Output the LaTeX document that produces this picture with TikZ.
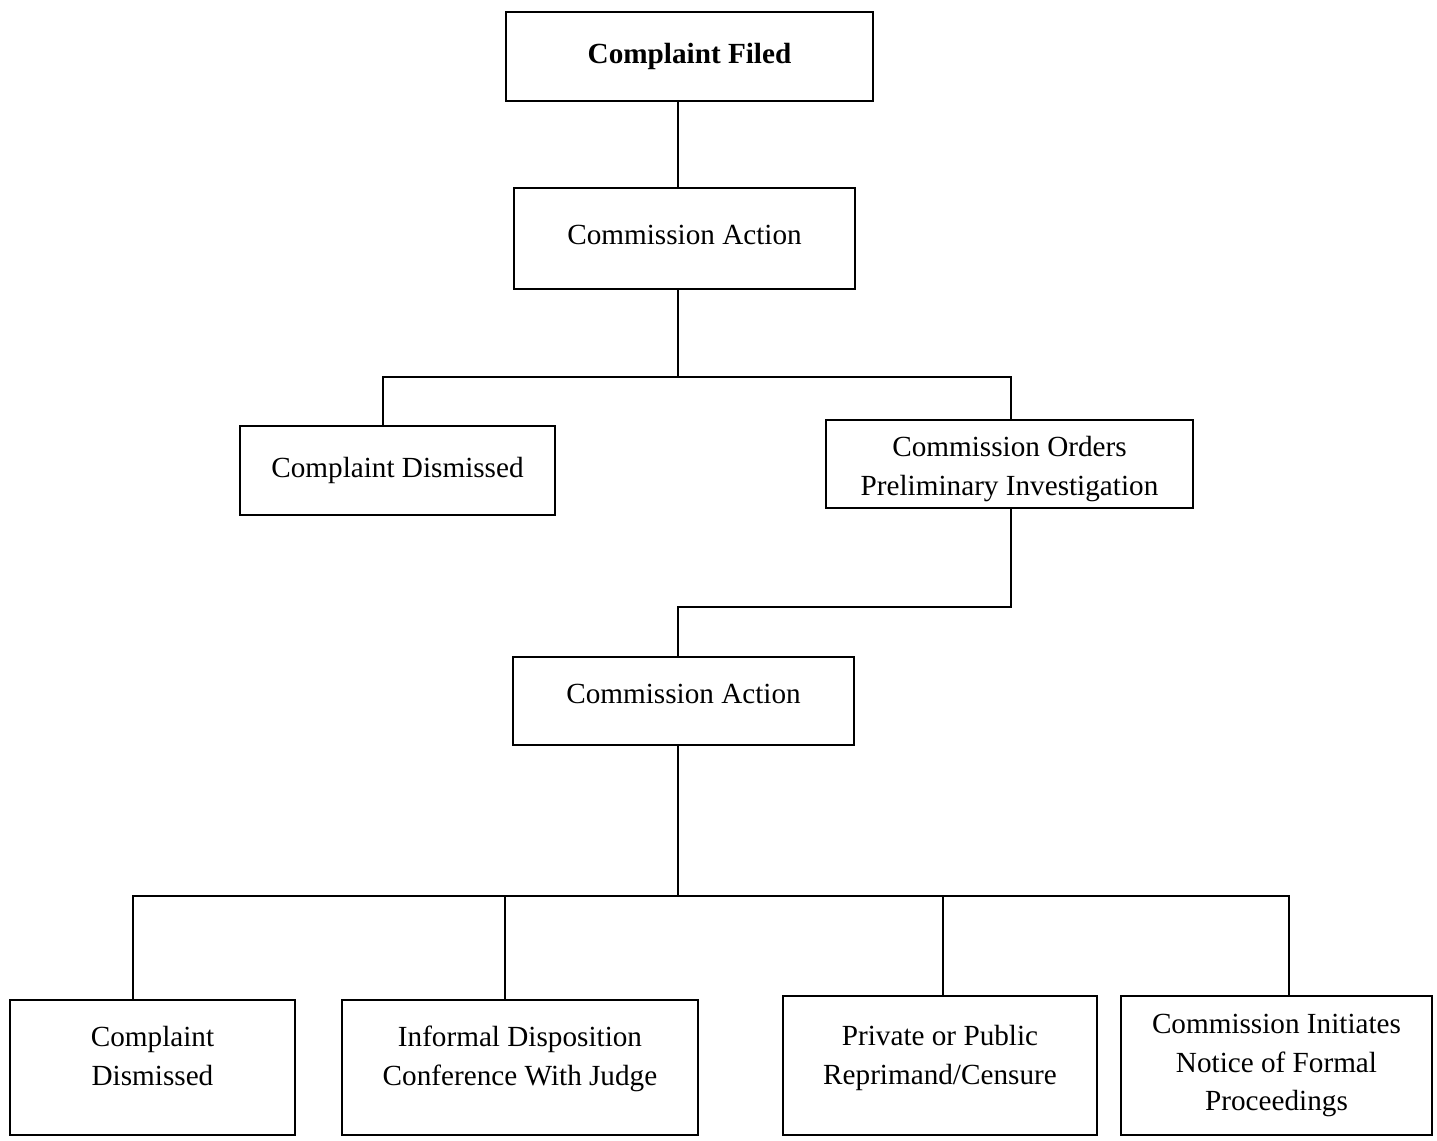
\documentclass[tikz,border=0pt]{standalone}
\usepackage{fontspec}
\setmainfont{Liberation Serif}

% invisible struts that move a node's text up or down inside its box
\newcommand{\padbelow}[1]{\rule[-#1]{0pt}{#1}}
\newcommand{\padabove}[1]{\rule{0pt}{#1}}

\begin{document}
\begin{tikzpicture}[
    x=0.5pt,
    y=-0.5pt,
    box/.style={
        rectangle,
        draw=black,
        line width=1.2pt,
        inner sep=0pt,
        font=\fontsize{14.6}{19.4}\selectfont,
        align=center
    },
    link/.style={
        line width=1.2pt,
        line cap=rect
    }
]
\useasboundingbox (0,0) rectangle (1437,1141);

% First stage
\node[box, font=\fontsize{14.6}{19.4}\selectfont\bfseries,
      minimum width=183.5pt, minimum height=44.5pt] (filed) at (689.5,56.5) {Complaint Filed};
\node[box, minimum width=170.5pt, minimum height=50.5pt] (action1) at (684.5,238.5) {Commission Action\padbelow{3.5pt}};

% First outcomes
\node[box, minimum width=157.5pt, minimum height=44.5pt] (dismissed1) at (397.5,470.5) {Complaint Dismissed};
\node[box, minimum width=183.5pt, minimum height=44pt] (prelim) at (1009.5,464) {\padabove{15pt}Commission Orders\\Preliminary Investigation};

% Second stage
\node[box, minimum width=170.5pt, minimum height=44pt] (action2) at (683.5,701) {Commission Action\padbelow{7pt}};

% Final outcomes
\node[box, minimum width=142.5pt, minimum height=67.5pt] (dismissed2) at (152.5,1067.5) {Complaint\\Dismissed\padbelow{12pt}};
\node[box, minimum width=178pt, minimum height=67.5pt] (informal) at (520,1067.5) {Informal Disposition\\Conference With Judge\padbelow{12pt}};
\node[box, minimum width=157pt, minimum height=69.5pt] (reprimand) at (940,1065.5) {Private or Public\\Reprimand/Censure\padbelow{11pt}};
\node[box, minimum width=155.5pt, minimum height=69.5pt] (formal) at (1276.5,1065.5) {Commission Initiates\\Notice of Formal\\Proceedings};

% Junctions
\coordinate (split1) at (678,377);
\coordinate (left1) at (383,377);
\coordinate (right1) at (1011,377);
\coordinate (jog) at (678,607);
\coordinate (split2) at (678,896);
\coordinate (drop1) at (133,896);
\coordinate (drop2) at (505,896);
\coordinate (drop3) at (943,896);
\coordinate (drop4) at (1289,896);

% Connectors
\draw[link] (filed.south -| split1) -- (action1.north -| split1);
\draw[link] (action1.south -| split1) -- (split1);
\draw[link] (dismissed1.north -| left1) -- (left1) -- (right1) -- (prelim.north -| right1);
\draw[link] (prelim.south -| right1) |- (jog) -- (action2.north -| jog);
\draw[link] (action2.south -| split2) -- (split2);
\draw[link] (dismissed2.north -| drop1) -- (drop1) -- (drop4) -- (formal.north -| drop4);
\draw[link] (drop2) -- (informal.north -| drop2);
\draw[link] (drop3) -- (reprimand.north -| drop3);

\end{tikzpicture}
\end{document}
